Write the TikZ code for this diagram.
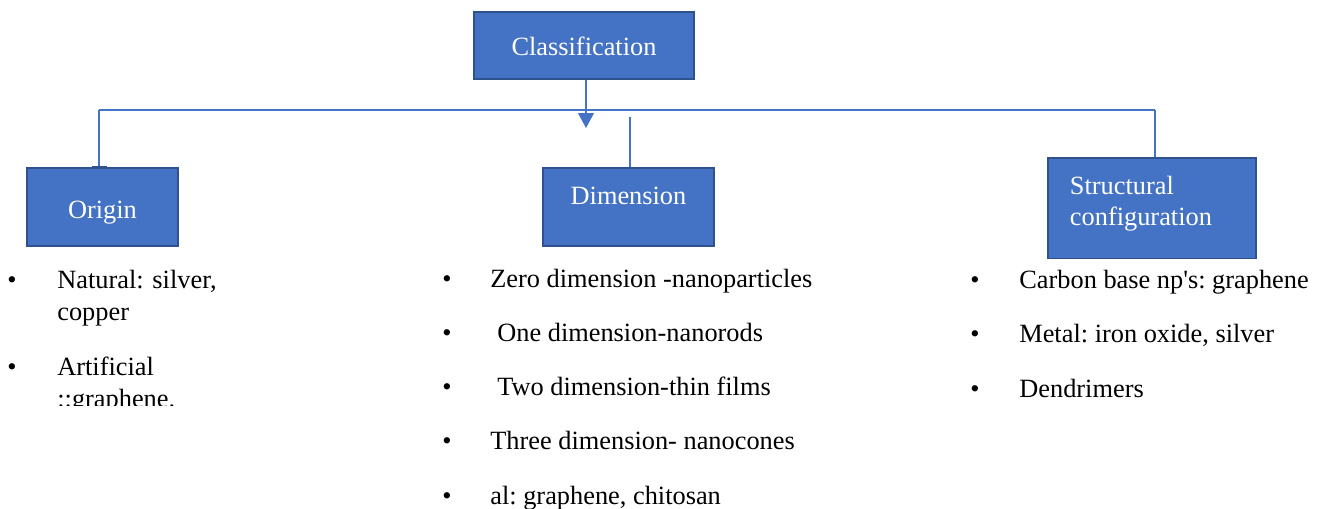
\documentclass[tikz,border=0pt]{standalone}
\usepackage{fontspec}
\setmainfont{Liberation Serif}
\usetikzlibrary{arrows.meta,positioning}
\definecolor{boxfill}{HTML}{4472C4}
\definecolor{boxedge}{HTML}{2F528F}
\definecolor{linkblue}{HTML}{4472C4}
\frenchspacing

\begin{document}
\begin{tikzpicture}[
    x=0.02cm, y=-0.02cm,
    >={Triangle[width=9pt,length=8.5pt]},
    catbox/.style={draw=boxedge,line width=1.1pt,fill=boxfill,text=white,
        font=\fontsize{15}{18}\selectfont,inner sep=0pt},
    link/.style={draw=linkblue,line width=0.8pt},
    itemtxt/.style={anchor=base west,inner sep=0pt,font=\fontsize{15}{18.7}\selectfont},
    bulletmark/.style={anchor=base,inner sep=0pt,font=\fontsize{15}{18.7}\selectfont}
]
\useasboundingbox (0,0) rectangle (1321,508);

% Boxes
\node[catbox,anchor=north,minimum width=4.4cm,
      text height=24.9pt,text depth=13pt] (classif) at (584,11)
    {Classification};

\node[catbox,anchor=north,minimum width=3.02cm,
      text height=28.9pt,text depth=15.3pt] (origin) at (102.5,167)
    {Origin};

\node[catbox,anchor=north,minimum width=3.42cm,
      text height=21pt,text depth=23.2pt] (dimen) at (628.5,167)
    {Dimension};

\node[catbox,anchor=north west,text width=3.28cm,inner xsep=0.44cm,align=left,
      font=\fontsize{15}{17.6}\selectfont,
      text height=21pt,text depth=36.2pt] (struct) at (1047,157)
    {Structural\\configuration};

% Connectors
\coordinate (busL) at (99,110);
\coordinate (busR) at (1155,110);
\coordinate (arrEnd) at (586,128);
\coordinate (stubTop) at (630,117);

\draw[link] (busL) -- (busR);
\draw[link] (busL) -- (busL |- origin.north);
\draw[link] (busR) -- (busR |- struct.north);
\draw[link,->] (classif.south -| arrEnd) -- (arrEnd);
\draw[link] (stubTop) -- (stubTop |- dimen.north);
\draw[boxedge,line width=1.3pt]
    ([xshift=-0.14cm]busL |- origin.north) -- ([xshift=0.16cm]busL |- origin.north);

% Origin items
\node[bulletmark] (bo1) at (12,288) {•};
\node[itemtxt,text width=4cm,align=left] (io1) at (57,288) {Natural: silver,\\copper};
\node[bulletmark] (bo2) at (12,375) {•};
\begin{scope}
  \clip (0,340) rectangle (300,405);
  \node[itemtxt,text width=4cm,align=left] (io2) at (57,375) {Artificial\\::graphene.};
\end{scope}

% Dimension items
\node[bulletmark] (bd1) at (447,287) {•};
\node[itemtxt] (id1) at (490,287) {Zero dimension -nanoparticles};
\node[bulletmark] (bd2) at (447,341) {•};
\node[itemtxt] (id2) at (497,341) {One dimension-nanorods};
\node[bulletmark] (bd3) at (447,395) {•};
\node[itemtxt] (id3) at (497,395) {Two dimension-thin films};
\node[bulletmark] (bd4) at (447,449) {•};
\node[itemtxt] (id4) at (490,449) {Three dimension- nanocones};
\node[bulletmark] (bd5) at (447,504) {•};
\node[itemtxt] (id5) at (490,504) {al: graphene, chitosan};

% Structural items
\node[bulletmark] (bs1) at (975,288) {•};
\node[itemtxt] (is1) at (1019,288) {Carbon base np\textquotesingle s: graphene};
\node[bulletmark] (bs2) at (975,342) {•};
\node[itemtxt] (is2) at (1019,342) {Metal: iron oxide, silver};
\node[bulletmark] (bs3) at (975,397) {•};
\node[itemtxt] (is3) at (1019,397) {Dendrimers};

\end{tikzpicture}
\end{document}
